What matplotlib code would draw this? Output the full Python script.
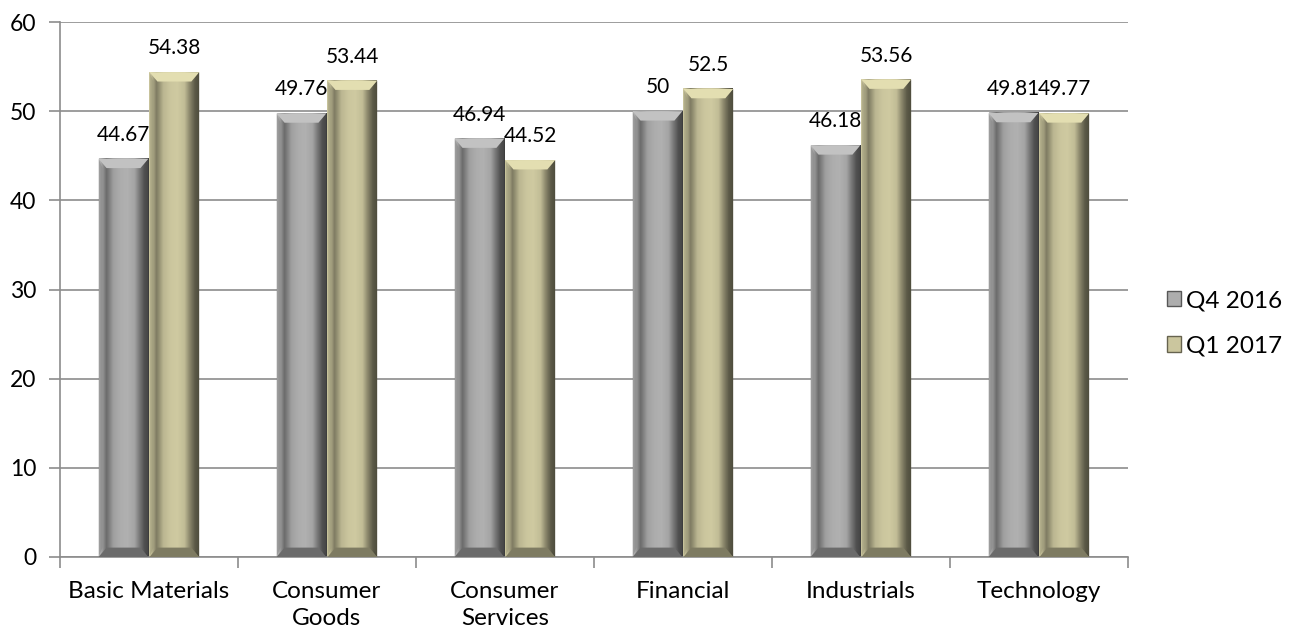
import matplotlib.pyplot as plt
import numpy as np
from matplotlib.colors import LinearSegmentedColormap, to_rgb
from matplotlib.patches import Polygon, Patch

plt.rcParams['font.family'] = ['Lato', 'DejaVu Sans']

categories = ['Basic Materials', 'Consumer\nGoods', 'Consumer\nServices', 'Financial', 'Industrials', 'Technology']
q4_2016 = [44.67, 49.76, 46.94, 50, 46.18, 49.81]
q1_2017 = [54.38, 53.44, 44.52, 52.5, 53.56, 49.77]
series_names = ['Q4 2016', 'Q1 2017']
gray = '#adadad'
tan = '#cbc69e'
FS = 17.5


def shade(c, f):
    r = np.array(to_rgb(c)) * f
    return tuple(np.clip(r, 0, 1))


def bevel_bar(ax, patch, color):
    x0 = patch.get_x()
    w = patch.get_width()
    h = patch.get_height()
    x1 = x0 + w
    # horizontal gradient across the bar
    prof = [1.08, 0.62, 0.92, 1.0, 1.02, 0.95, 0.6, 0.32]
    cmap = LinearSegmentedColormap.from_list('b', [shade(color, f) for f in prof])
    grad = np.linspace(0, 1, 64).reshape(1, -1)
    ax.imshow(grad, cmap=cmap, extent=(x0, x1, 0, h), aspect='auto', zorder=2,
              interpolation='bilinear')
    bx = w * 0.16
    by = 1.05
    # bottom bevel
    ax.add_patch(Polygon([(x0, 0), (x1, 0), (x1 - bx, by), (x0 + bx, by)],
                         closed=True, facecolor=shade(color, 0.62), edgecolor='none', zorder=3))
    # top bevel
    ax.add_patch(Polygon([(x0, h), (x1, h), (x1 - bx, h - by), (x0 + bx, h - by)],
                         closed=True, facecolor=shade(color, 1.12), edgecolor='none', zorder=3))
    # side bevels
    ax.add_patch(Polygon([(x1, 0), (x1, h), (x1 - bx * 0.6, h - by), (x1 - bx * 0.6, by)],
                         closed=True, facecolor=shade(color, 0.45), edgecolor='none', zorder=3, alpha=0.6))
    ax.add_patch(Polygon([(x0, 0), (x0, h), (x0 + bx * 0.5, h - by), (x0 + bx * 0.5, by)],
                         closed=True, facecolor=shade(color, 0.75), edgecolor='none', zorder=3, alpha=0.5))


fig = plt.figure(figsize=(12.92, 6.34), dpi=100)
ax = fig.add_axes([0.0464, 0.1215, 0.8266, 0.8437])

x = np.arange(len(categories))
w = 0.28
off = 0.143
b1 = ax.bar(x - off, q4_2016, w, color=gray, zorder=2)
b2 = ax.bar(x + off, q1_2017, w, color=tan, zorder=2)

for bars, col, vals in [(b1, gray, q4_2016), (b2, tan, q1_2017)]:
    for p, v in zip(bars, vals):
        bevel_bar(ax, p, col)
        ax.annotate(f'{v:g}', (p.get_x() + p.get_width() / 2, v), xytext=(0, 10),
                    textcoords='offset points', ha='center', va='bottom', fontsize=15)

ax.set_xlim(-0.5, len(categories) - 0.5)
ax.set_ylim(0, 60)
ax.set_yticks(range(0, 61, 10))
ax.yaxis.grid(True, color='#8c8c8c', linewidth=1.2)
ax.set_axisbelow(True)
ax.set_xticks(x)
ax.set_xticklabels(categories, fontsize=FS, linespacing=1.4)
ax.set_xticks(np.arange(-0.5, len(categories)), minor=True)
ax.tick_params(axis='x', which='major', length=0, pad=17)
ax.tick_params(axis='x', which='minor', length=8, width=1.2, color='#8c8c8c')
ax.tick_params(axis='y', length=8, width=1.2, color='#8c8c8c', labelsize=16.5, pad=9)
for s in ['top', 'right']:
    ax.spines[s].set_visible(False)
for s in ['left', 'bottom']:
    ax.spines[s].set_color('#8c8c8c')
    ax.spines[s].set_linewidth(1.2)

handles = [Patch(facecolor=gray, edgecolor=shade(gray, 0.5)),
           Patch(facecolor=tan, edgecolor=shade(tan, 0.5))]
fig.legend(handles, series_names, loc='center left', bbox_to_anchor=(0.886, 0.49),
           frameon=False, fontsize=FS, handlelength=0.6, handleheight=0.6,
           handletextpad=0.2, labelspacing=1.0)

fig.savefig('out.png', dpi=100)
